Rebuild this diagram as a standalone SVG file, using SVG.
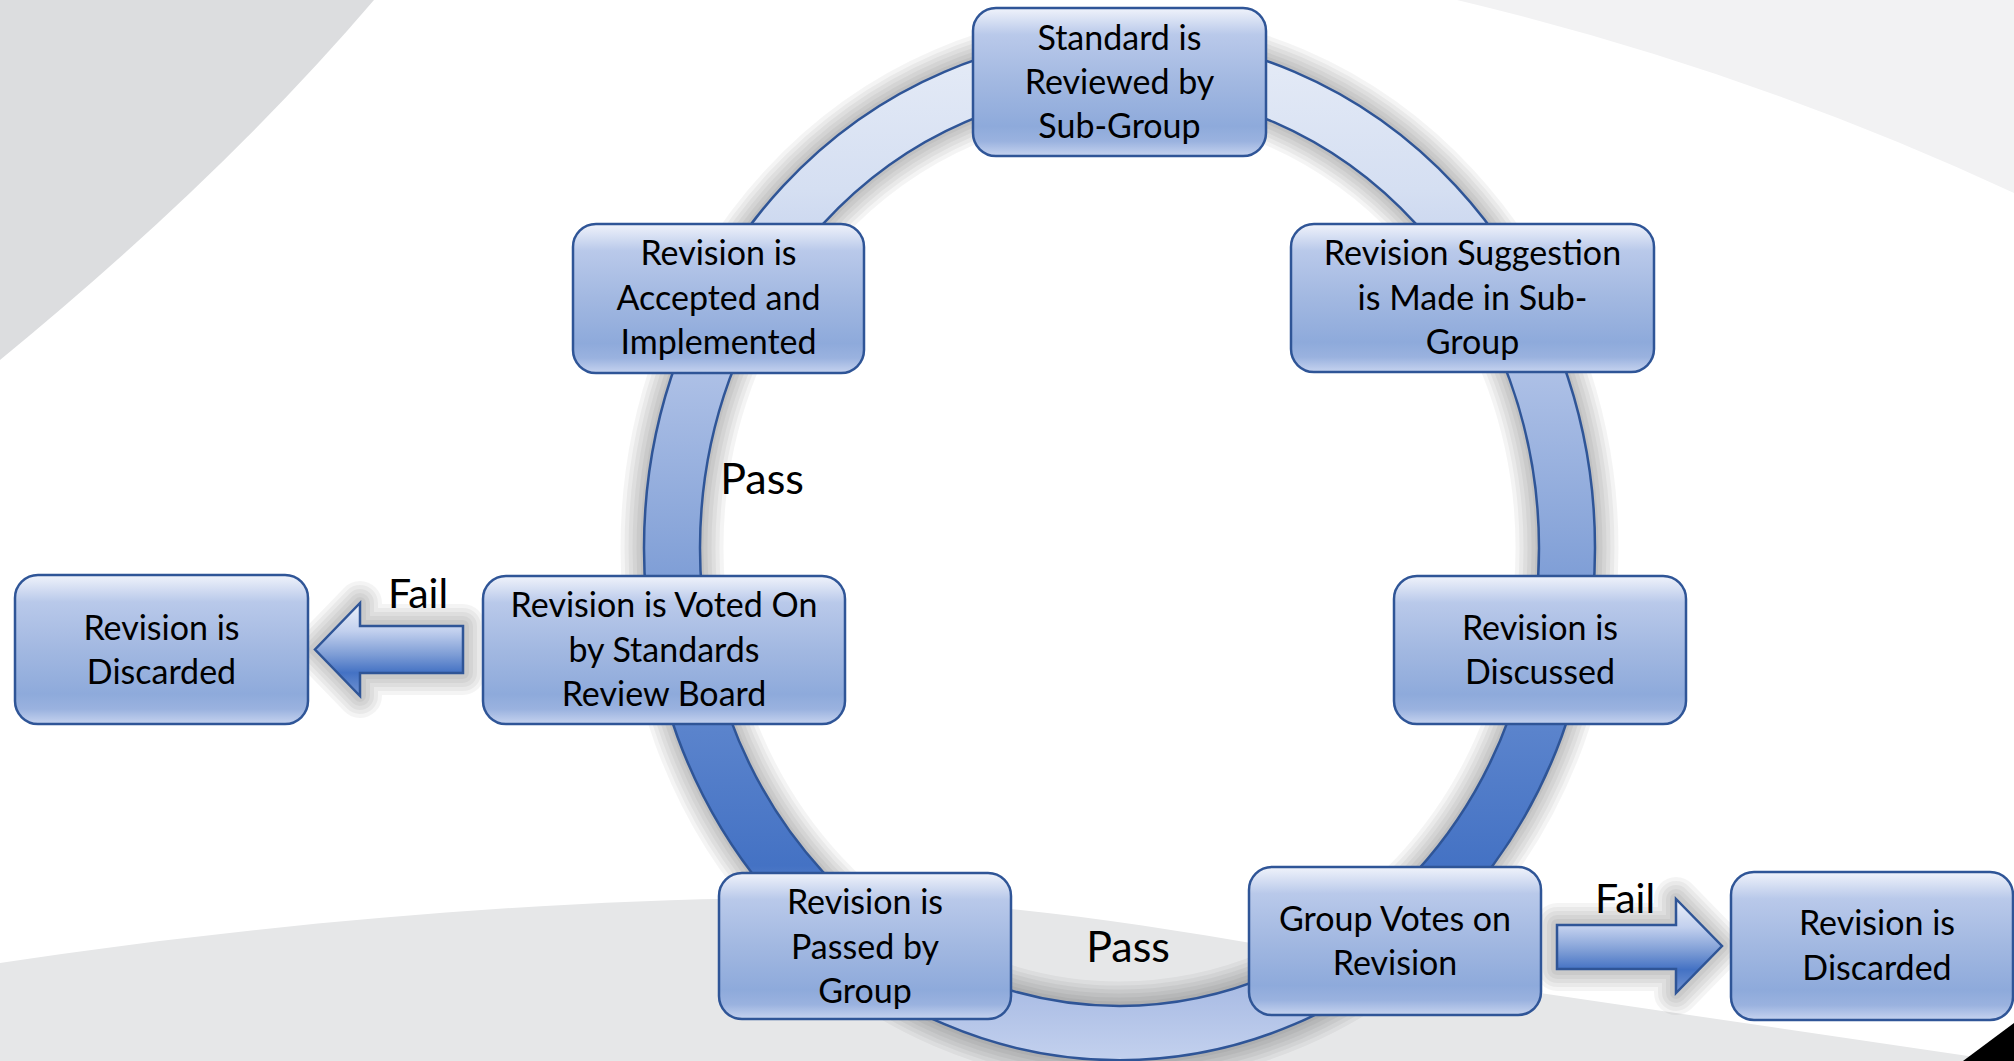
<svg xmlns="http://www.w3.org/2000/svg" width="2014" height="1061" viewBox="0 0 2014 1061">
  <defs>
    <style>
      .box { fill: url(#boxFill); stroke: #2f5597; stroke-width: 2.5; }
      .txt { font-family: Lato, "Open Sans", "Liberation Sans", sans-serif; font-size: 34px; fill: #000; text-anchor: middle; }
      .edge { font-family: Lato, "Open Sans", "Liberation Sans", sans-serif; fill: #000; text-anchor: middle; }
      .ring { fill: url(#ringFill); fill-rule: evenodd; stroke: #2f5597; stroke-width: 2.5; }
      .arrow { fill: url(#arrowFill); stroke: #2f5597; stroke-width: 2.5; stroke-linejoin: miter; }
      .halo { fill: none; stroke: #000; stroke-opacity: 0.045; stroke-linejoin: round; }
    </style>
    <linearGradient id="boxFill" x1="0" y1="0" x2="0" y2="1">
      <stop offset="0" stop-color="#f0f3fb"/>
      <stop offset="0.18" stop-color="#b9c9ea"/>
      <stop offset="0.5" stop-color="#a2b8e1"/>
      <stop offset="0.8" stop-color="#8eaadb"/>
      <stop offset="0.9" stop-color="#9ab2df"/>
      <stop offset="1" stop-color="#c6d3ef"/>
    </linearGradient>
    <linearGradient id="ringFill" gradientUnits="userSpaceOnUse" x1="0" y1="36" x2="0" y2="1060">
      <stop offset="0" stop-color="#e6ecf7"/>
      <stop offset="0.15" stop-color="#d5dff2"/>
      <stop offset="0.33" stop-color="#adc0e6"/>
      <stop offset="0.48" stop-color="#8ba7da"/>
      <stop offset="0.68" stop-color="#5a83cc"/>
      <stop offset="0.81" stop-color="#4472c4"/>
      <stop offset="0.92" stop-color="#a6b9e3"/>
      <stop offset="1" stop-color="#c3d1ee"/>
    </linearGradient>
    <linearGradient id="arrowFill" x1="0" y1="0" x2="0" y2="1">
      <stop offset="0" stop-color="#eef2fa"/>
      <stop offset="0.3" stop-color="#c2d0ee"/>
      <stop offset="0.55" stop-color="#7f9ed6"/>
      <stop offset="0.75" stop-color="#4472c4"/>
      <stop offset="1" stop-color="#7394d2"/>
    </linearGradient>
    <!-- centre line of the ring band, used for its soft halo -->
    <ellipse id="ringMid" cx="1119.5" cy="548" rx="447.5" ry="485"/>
    <path id="failLeft" d="M463,626 L360,626 L360,603 L315,649.5 L360,696 L360,673 L463,673 Z"/>
    <path id="failRight" d="M1557,925 L1676,925 L1676,899 L1722,946 L1676,993 L1676,969 L1557,969 Z"/>
  </defs>

  <!-- backdrop -->
  <g id="backdrop">
    <rect x="0" y="0" width="2014" height="1061" fill="#ffffff"/>
    <path d="M0,0 L374,0 Q222,178 0,360 Z" fill="#dcdddf"/>
    <path d="M1457,0 Q1750,70 2014,193 L2014,0 Z" fill="#f2f2f3"/>
    <path d="M0,963 C250,925 550,898 800,898 C1050,898 1250,945 1540,993 L2002,1061 L0,1061 Z" fill="#e6e7e8"/>
    <polygon points="1963,1061 2014,1023 2014,1061" fill="#000000"/>
  </g>

  <!-- cycle ring, fail arrows and edge labels -->
  <g id="connectors">
    <g id="halos">
      <use href="#ringMid" class="halo" stroke-width="103"/>
      <use href="#ringMid" class="halo" stroke-width="95"/>
      <use href="#ringMid" class="halo" stroke-width="87"/>
      <use href="#ringMid" class="halo" stroke-width="79"/>
      <use href="#ringMid" class="halo" stroke-width="71"/>
      <use href="#ringMid" class="halo" stroke-width="63"/>
      <use href="#failLeft" class="halo" stroke-width="44"/>
      <use href="#failLeft" class="halo" stroke-width="36"/>
      <use href="#failLeft" class="halo" stroke-width="28"/>
      <use href="#failLeft" class="halo" stroke-width="20"/>
      <use href="#failLeft" class="halo" stroke-width="12"/>
      <use href="#failRight" class="halo" stroke-width="44"/>
      <use href="#failRight" class="halo" stroke-width="36"/>
      <use href="#failRight" class="halo" stroke-width="28"/>
      <use href="#failRight" class="halo" stroke-width="20"/>
      <use href="#failRight" class="halo" stroke-width="12"/>
    </g>
    <path class="ring"
      d="M644,548 A475.5,512 0 1,0 1595,548 A475.5,512 0 1,0 644,548 Z
         M700,548 A419.5,458 0 1,1 1539,548 A419.5,458 0 1,1 700,548 Z"/>
    <use href="#failLeft" class="arrow"/>
    <use href="#failRight" class="arrow"/>
    <text class="edge" x="762" y="494" font-size="43">Pass</text>
    <text class="edge" x="1128" y="962" font-size="43">Pass</text>
    <text class="edge" x="418" y="608" font-size="41">Fail</text>
    <text class="edge" x="1625" y="913" font-size="41">Fail</text>
  </g>

  <g id="node-reviewed">
    <rect class="box" x="973" y="8" width="293" height="148" rx="23"/>
    <text class="txt"><tspan x="1119.5" y="49.5">Standard is</tspan><tspan x="1119.5" y="93.5">Reviewed by</tspan><tspan x="1119.5" y="138">Sub-Group</tspan></text>
  </g>

  <g id="node-suggestion">
    <rect class="box" x="1291" y="224" width="363" height="148" rx="23"/>
    <text class="txt"><tspan x="1472.5" y="265">Revision Suggestion</tspan><tspan x="1472.5" y="309.5">is Made in Sub-</tspan><tspan x="1472.5" y="354">Group</tspan></text>
  </g>

  <g id="node-discussed">
    <rect class="box" x="1394" y="576" width="292" height="148" rx="23"/>
    <text class="txt"><tspan x="1540" y="639.5">Revision is</tspan><tspan x="1540" y="684">Discussed</tspan></text>
  </g>

  <g id="node-group-votes">
    <rect class="box" x="1249" y="867" width="292" height="148" rx="23"/>
    <text class="txt"><tspan x="1395" y="930.5">Group Votes on</tspan><tspan x="1395" y="975">Revision</tspan></text>
  </g>

  <g id="node-discarded-right">
    <rect class="box" x="1731" y="872" width="282" height="148" rx="23"/>
    <text class="txt"><tspan x="1877" y="935">Revision is</tspan><tspan x="1877" y="979.5">Discarded</tspan></text>
  </g>

  <g id="node-passed">
    <rect class="box" x="719" y="873" width="292" height="146" rx="23"/>
    <text class="txt"><tspan x="865" y="914">Revision is</tspan><tspan x="865" y="958.5">Passed by</tspan><tspan x="865" y="1003">Group</tspan></text>
  </g>

  <g id="node-board-vote">
    <rect class="box" x="483" y="576" width="362" height="148" rx="23"/>
    <text class="txt"><tspan x="664" y="617">Revision is Voted On</tspan><tspan x="664" y="661.5">by Standards</tspan><tspan x="664" y="706">Review Board</tspan></text>
  </g>

  <g id="node-discarded-left">
    <rect class="box" x="15" y="575" width="293" height="149" rx="23"/>
    <text class="txt"><tspan x="161.5" y="640">Revision is</tspan><tspan x="161.5" y="683.5">Discarded</tspan></text>
  </g>

  <g id="node-accepted">
    <rect class="box" x="573" y="224" width="291" height="149" rx="23"/>
    <text class="txt"><tspan x="718.5" y="265">Revision is</tspan><tspan x="718.5" y="309.5">Accepted and</tspan><tspan x="718.5" y="353.5">Implemented</tspan></text>
  </g>
</svg>
